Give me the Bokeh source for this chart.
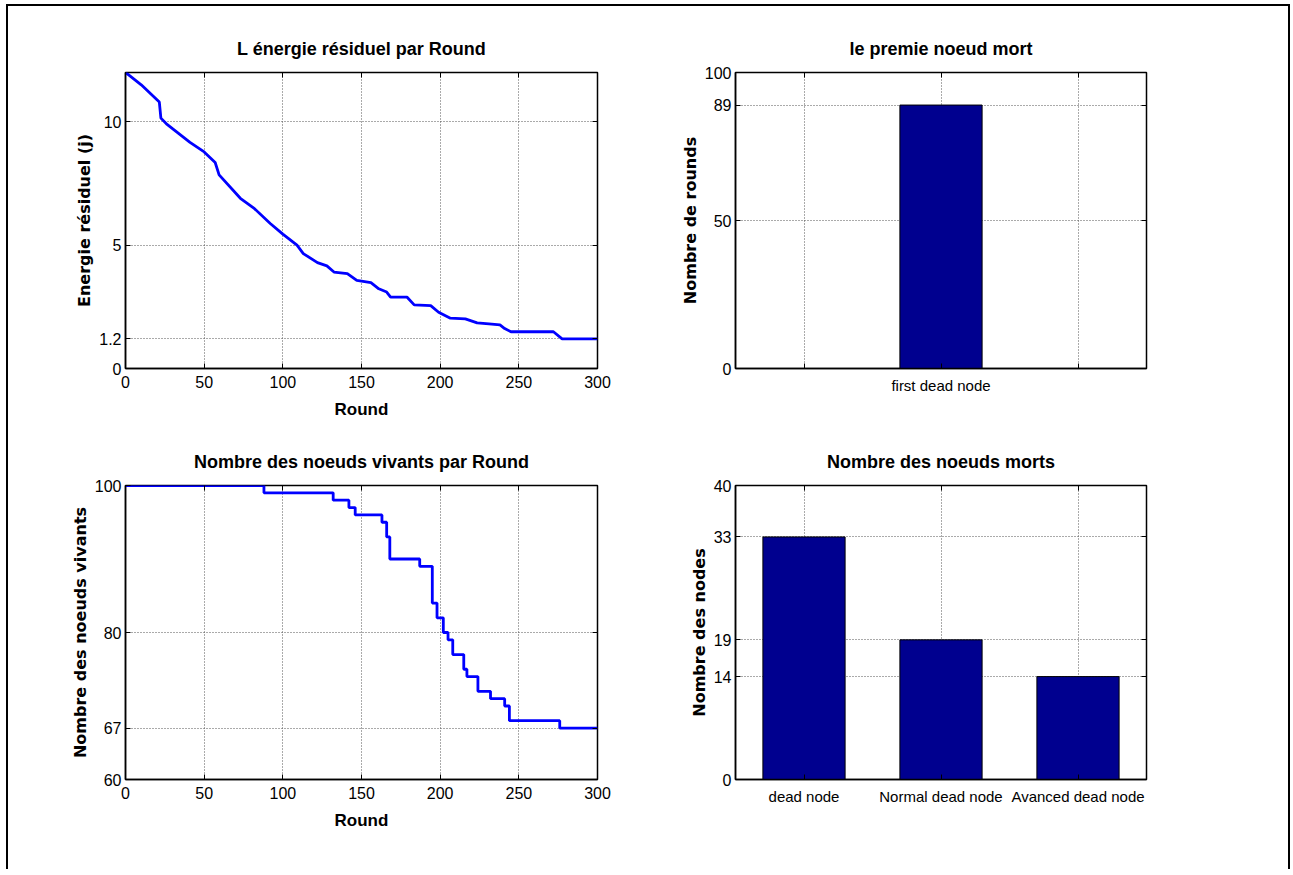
from bokeh.plotting import figure
from bokeh.layouts import gridplot, column
from bokeh.models import FixedTicker, LinearAxis, Range1d
from bokeh.embed import file_html
from bokeh.resources import INLINE

# ---------------- data ----------------
energy_rounds = [0, 2, 10, 21.5, 22.5, 26, 41, 50, 57, 59.5, 73, 82, 92, 100, 109, 113,
                 122, 128, 132.5, 141, 147, 156, 161, 166, 168.5, 179, 183.5, 194, 199,
                 206.5, 216, 223.5, 231, 238, 241, 245, 272, 277.5, 300]
energy_vals = [12, 11.9, 11.5, 10.8, 10.15, 9.92, 9.17, 8.78, 8.35, 7.85, 6.9, 6.48, 5.88,
               5.45, 5.0, 4.66, 4.29, 4.16, 3.91, 3.85, 3.57, 3.48, 3.23, 3.1, 2.89, 2.89,
               2.58, 2.55, 2.28, 2.04, 2.01, 1.85, 1.81, 1.77, 1.62, 1.49, 1.49, 1.2, 1.2]

alive_rounds = [0, 88, 132, 142, 146, 163, 166, 168, 187, 195, 198, 202, 205, 208, 215,
                217, 224, 232, 241, 244, 276, 300]
alive_vals = [100, 99, 98, 97, 96, 95, 93, 90, 89, 84, 82, 80, 79, 77, 75, 74, 72, 71, 70,
              68, 67, 67]

first_dead_labels = ["first dead node"]
first_dead_vals = [89]

dead_labels = ["dead node", "Normal dead node", "Avanced dead node"]
dead_vals = [33, 19, 14]

round_ticks = [0, 50, 100, 150, 200, 250, 300]
energy_ticks = [0, 1.2, 5, 10]
alive_ticks = [60, 67, 80, 100]
first_ticks = [0, 50, 89, 100]
dead_ticks = [0, 14, 19, 33, 40]

# ---------------- style ----------------
NARROW = "'Liberation Sans Narrow', 'Liberation Sans', sans-serif"
WIDE = "'DejaVu Sans', sans-serif"
TICK_FS = "16px"
CAT_FS = "15px"
BAR_COLOR = "#00008F"
LINE_COLOR = "#0000FF"


def make_fig(width, height, bl, br, bt, bb, xr, yr, title):
    p = figure(width=width, height=height, output_backend="svg", toolbar_location=None,
               x_range=xr, y_range=yr, min_border_left=bl, min_border_right=br,
               min_border_top=bt, min_border_bottom=bb)
    p.title.text = title
    p.title.align = "center"
    p.title.text_font = NARROW
    p.title.text_font_size = "18px"
    p.title.text_font_style = "bold"
    p.title.text_color = "black"
    p.title.standoff = 27
    p.outline_line_color = "black"
    p.outline_line_width = 1.5
    p.background_fill_color = "white"
    p.border_fill_color = "white"
    for ax in (p.xaxis, p.yaxis):
        ax.major_tick_in = 5
        ax.major_tick_out = 0
        ax.minor_tick_line_color = None
        ax.axis_line_color = "black"
        ax.axis_line_width = 1.5
        ax.major_tick_line_color = "black"
        ax.major_label_text_font = NARROW
        ax.major_label_text_font_size = TICK_FS
        ax.major_label_text_color = "black"
    p.xaxis.major_label_standoff = 7
    p.yaxis.major_label_standoff = 4
    for g in (p.xgrid, p.ygrid):
        g.grid_line_color = "#555555"
        g.grid_line_dash = "1 2"
        g.grid_line_width = 1
    return p


def set_axes(p, xt, yt, xlabel=None, ylabel=None, xlabels=None, ylabels=None):
    bottom = p.below[0]
    left = p.left[0]
    bottom.ticker = FixedTicker(ticks=xt)
    left.ticker = FixedTicker(ticks=yt)
    p.xgrid.ticker = FixedTicker(ticks=xt)
    p.ygrid.ticker = FixedTicker(ticks=yt)
    if xlabels is not None:
        bottom.major_label_overrides = xlabels
        bottom.major_label_text_font_size = CAT_FS
        bottom.major_label_standoff = 8
    if ylabels is not None:
        left.major_label_overrides = ylabels
    if xlabel:
        bottom.axis_label = xlabel
        bottom.axis_label_text_font = NARROW
        bottom.axis_label_text_font_size = "17px"
        bottom.axis_label_text_font_style = "bold"
        bottom.axis_label_text_color = "black"
        bottom.axis_label_standoff = 9
    if ylabel:
        left.axis_label = ylabel
        left.axis_label_text_font = WIDE
        left.axis_label_text_font_size = "16px"
        left.axis_label_text_font_style = "bold"
        left.axis_label_text_color = "black"
        left.axis_label_standoff = 2
    # mirrored tick marks on top / right (box on), no labels
    top = LinearAxis(ticker=FixedTicker(ticks=xt), major_tick_in=5, major_tick_out=0,
                     minor_tick_line_color=None, major_label_text_color=None,
                     major_label_text_font_size="1px", axis_line_color=None,
                     major_label_standoff=0)
    right = LinearAxis(ticker=FixedTicker(ticks=yt), major_tick_in=5, major_tick_out=0,
                       minor_tick_line_color=None, major_label_text_color=None,
                       major_label_text_font_size="1px", axis_line_color=None,
                       major_label_standoff=0)
    p.add_layout(top, "above")
    p.add_layout(right, "right")


# ---- top-left: residual energy ----
p1 = make_fig(642, 424, 117, 53, 66, 62, Range1d(0, 300), Range1d(0, 12),
              "L énergie résiduel par Round")
set_axes(p1, round_ticks, energy_ticks, "Round", "Energie résiduel (j)",
         ylabels={1.2: "1.2"})
p1.line(energy_rounds, energy_vals, line_color=LINE_COLOR, line_width=2.8)

# ---- top-right: first dead node ----
p2 = make_fig(638, 424, 85, 142, 66, 62, Range1d(-0.5, 2.5), Range1d(0, 100),
              "le premie noeud mort")
set_axes(p2, [0, 1, 2], first_ticks, None, "Nombre de rounds",
         xlabels={0: "", 1: first_dead_labels[0], 2: ""})
p2.vbar(x=[1], top=first_dead_vals, width=0.6, bottom=0, fill_color=BAR_COLOR,
        line_color="black", line_width=1)

# ---- bottom-left: alive nodes ----
p3 = make_fig(642, 439, 117, 53, 55, 90, Range1d(0, 300), Range1d(60, 100),
              "Nombre des noeuds vivants par Round")
set_axes(p3, round_ticks, alive_ticks, "Round", "Nombre des noeuds vivants")
p3.step(alive_rounds, alive_vals, mode="after", line_color=LINE_COLOR, line_width=2.8)

# ---- bottom-right: dead nodes ----
p4 = make_fig(638, 439, 85, 142, 55, 90, Range1d(0.5, 3.5), Range1d(0, 40),
              "Nombre des noeuds morts")
set_axes(p4, [1, 2, 3], dead_ticks, None, "Nombre des nodes",
         xlabels={i + 1: lab for i, lab in enumerate(dead_labels)})
p4.vbar(x=[1, 2, 3], top=dead_vals, width=0.6, bottom=0, fill_color=BAR_COLOR,
        line_color="black", line_width=1)

grid = gridplot([[p1, p2], [p3, p4]], toolbar_location=None)
page = column(grid, styles={"margin-left": "6px", "margin-top": "4px",
                            "border-left": "2px solid black",
                            "border-top": "2px solid black",
                            "border-right": "2px solid black"})

open("out.html", "w").write(file_html(page, INLINE))
